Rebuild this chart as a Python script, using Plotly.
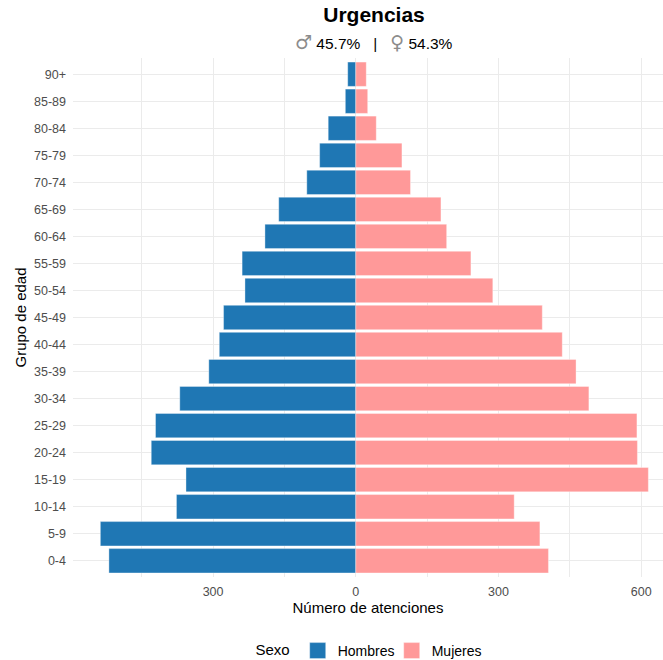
import plotly.graph_objects as go

grupos = ["0-4", "5-9", "10-14", "15-19", "20-24", "25-29", "30-34", "35-39", "40-44",
          "45-49", "50-54", "55-59", "60-64", "65-69", "70-74", "75-79", "80-84", "85-89", "90+"]
hombres = [519, 537, 377, 357, 430, 421, 370, 309, 287, 278, 233, 239, 191, 162, 103, 76, 58, 22, 17]
mujeres = [405, 387, 333, 615, 592, 591, 490, 463, 434, 392, 288, 242, 191, 179, 115, 97, 43, 25, 22]

tick_vals = [-300, 0, 300, 600]
tick_text = ["300", "0", "300", "600"]
minor_vals = [-450, -150, 150, 450]

C_H = "#1F77B4"
C_M = "#FF9999"
GRID = "#EBEBEB"
FONT = "Liberation Sans, Arial, sans-serif"

fig = go.Figure()
fig.add_trace(go.Bar(
    y=grupos, x=[-v for v in hombres], orientation="h", name="Hombres",
    marker=dict(color=C_H, line=dict(color="rgba(255,255,255,0.6)", width=0.6)),
    width=0.9, hoverinfo="skip", showlegend=False))
fig.add_trace(go.Bar(
    y=grupos, x=mujeres, orientation="h", name="Mujeres",
    marker=dict(color=C_M, line=dict(color="rgba(255,255,255,0.6)", width=0.6)),
    width=0.9, hoverinfo="skip", showlegend=False))
# legend keys (larger squares, as in the reference)
for nm, col in (("Hombres", C_H), ("Mujeres", C_M)):
    fig.add_trace(go.Scatter(
        x=[None], y=[None], mode="markers", name=nm,
        marker=dict(symbol="square", size=16, color=col,
                    line=dict(color="rgba(255,255,255,0.6)", width=0.6)),
        hoverinfo="skip", showlegend=True))

W, H = 663, 660
L, R, T, B = 73, 0, 58, 83
pw = W - L - R
ph = H - T - B
cx = 374  # centre of the panel (as in the reference) in pixels
cx_paper = (cx - L) / pw

fig.update_layout(
    width=W, height=H,
    margin=dict(l=L, r=R, t=T, b=B, autoexpand=False),
    paper_bgcolor="white", plot_bgcolor="white",
    barmode="relative", bargap=0.1,
    font=dict(family=FONT, color="#000000"),
    title=dict(text="<b>Urgencias</b>", x=cx / W, xanchor="center",
               y=1 - 15 / H, yanchor="middle", yref="container",
               font=dict(size=21, color="#000000", family=FONT)),
    xaxis=dict(range=[-594.5, 645.8], tickmode="array", tickvals=tick_vals,
               ticktext=tick_text, automargin=False,
               showgrid=True, gridcolor=GRID, gridwidth=1.1, zeroline=False,
               showline=False, ticks="", ticklabelstandoff=5,
               tickfont=dict(size=12.5, color="#4D4D4D"),
               minor=dict(tickmode="array", tickvals=minor_vals, showgrid=True,
                          gridcolor=GRID, gridwidth=0.6, ticks=""),
               title=dict(text="Número de atenciones", font=dict(size=15, color="#000000"),
                          standoff=3),
               fixedrange=True),
    yaxis=dict(categoryorder="array", categoryarray=grupos, range=[-0.6, 18.6],
               automargin=False,
               showgrid=True, gridcolor=GRID, gridwidth=1.1, zeroline=False,
               showline=False, ticks="", ticklabelstandoff=6,
               tickfont=dict(size=12.5, color="#4D4D4D"),
               title=dict(text="Grupo de edad", font=dict(size=15, color="#000000"),
                          standoff=3),
               fixedrange=True),
    legend=dict(orientation="h", x=cx_paper - 4 / pw, xanchor="center",
                y=-(651 - (H - B)) / ph, yanchor="middle",
                title=dict(text="Sexo", font=dict(size=15, color="#000000")),
                font=dict(size=14, color="#000000"), itemwidth=30, itemsizing="trace",
                entrywidth=49, traceorder="normal"),
    showlegend=True,
)

SYM = "font-size:19px;color:#8C8C8C;font-family:DejaVu Sans"
fig.add_annotation(
    text=f"<span style='{SYM}'>♂</span> 45.7%   |   "
         f"<span style='{SYM}'>♀</span> 54.3%",
    xref="paper", yref="paper",
    x=cx_paper, y=1 + (T - 41.5) / ph, xanchor="center", yanchor="middle",
    showarrow=False, font=dict(size=15.5, color="#000000", family=FONT))

fig.write_html("out.html", config={"displayModeBar": False},
               post_script="document.body.style.margin='0';")
